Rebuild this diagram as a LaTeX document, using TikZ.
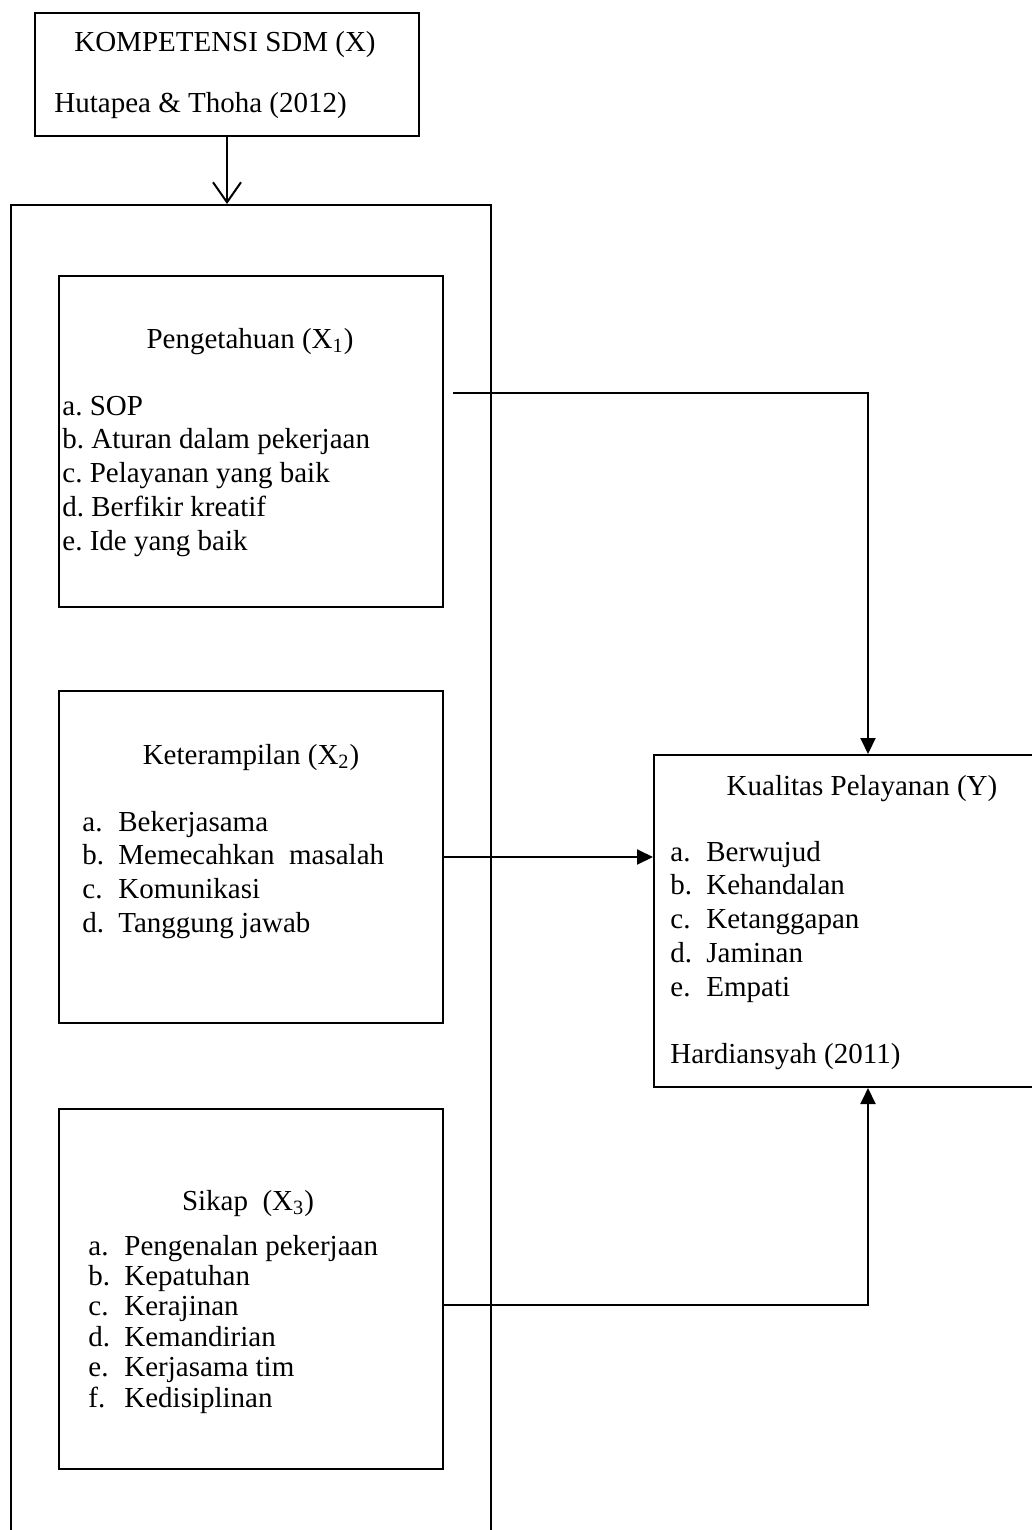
\documentclass[tikz,border=0pt]{standalone}
\usepackage{fontspec}
\setmainfont{Liberation Serif}
\usetikzlibrary{arrows.meta}
\usetikzlibrary{positioning}

\tikzset{
    kotak/.style={draw, line width=1pt, rectangle, anchor=north west, inner sep=0pt},
    judul/.style={anchor=base, inner sep=0pt},
    butir/.style={anchor=base west, inner sep=0pt},
    panah/.style={line width=1pt, -{Triangle[length=8pt,width=7.5pt]}},
    panahbuka/.style={line width=1pt, -{Straight Barb[length=10pt,width=14pt]}},
}
\newcommand{\itm}[2]{\makebox[18pt][l]{#1}#2}

\begin{document}
\begin{tikzpicture}[x=0.5pt, y=-0.5pt, font=\fontsize{14.5}{17}\selectfont\frenchspacing]
    \useasboundingbox (0,0) rectangle (1032,1530);
    \clip (0,0) rectangle (1032,1530);

    % kotak
    \node [kotak, minimum width=192pt, minimum height=61.5pt] (kompetensi) at (34,12) {};
    \node [kotak, minimum width=240pt, minimum height=680pt] (wadah) at (10,204) {};
    \node [kotak, minimum width=192pt, minimum height=165.5pt] (pengetahuan) at (58,275) {};
    \node [kotak, minimum width=192pt, minimum height=166pt] (keterampilan) at (58,690) {};
    \node [kotak, minimum width=192pt, minimum height=180pt] (sikap) at (58,1108) {};
    \node [kotak, minimum width=200pt, minimum height=166pt] (kualitas) at (653,754) {};

    % teks
    \node [judul] (tkompetensi) at (225,52) {KOMPETENSI SDM (X)};
    \node [butir] (sumberx) at (54,113) {Hutapea \& Thoha (2012)};

    \node [judul] (tpengetahuan) at (250,348) {Pengetahuan (X\textsubscript{1})};
    \foreach \t [count=\i] in {a. SOP, b. Aturan dalam pekerjaan, c. Pelayanan yang baik,
        d. Berfikir kreatif, e. Ide yang baik}
        \node [butir] (p\i) at (62,381.25+33.75*\i) {\t};

    \node [judul] (tketerampilan) at (251,764) {Keterampilan (X\textsubscript{2})};
    \foreach \h/\t [count=\i] in {a./Bekerjasama, b./Memecahkan\ \ masalah, c./Komunikasi,
        d./Tanggung jawab}
        \node [butir] (k\i) at (82,797.3+33.7*\i) {\itm{\h}{\t}};

    \node [judul] (tsikap) at (248,1210) {Sikap\ \ (X\textsubscript{3})};
    \foreach \h/\t [count=\i] in {a./Pengenalan pekerjaan, b./Kepatuhan, c./Kerajinan,
        d./Kemandirian, e./Kerjasama tim, f./Kedisiplinan}
        \node [butir] (s\i) at (88,1224.6+30.4*\i) {\itm{\h}{\t}};

    \node [judul] (tkualitas) at (862,795) {Kualitas Pelayanan (Y)};
    \foreach \h/\t [count=\i] in {a./Berwujud, b./Kehandalan, c./Ketanggapan,
        d./Jaminan, e./Empati}
        \node [butir] (y\i) at (670,827.25+33.75*\i) {\itm{\h}{\t}};
    \node [butir] (sumbery) at (670,1063) {Hardiansyah (2011)};

    % panah
    \coordinate (awal) at (453,393);
    \coordinate (atas) at (868,393);
    \coordinate (bawah) at (868,1305);
    \draw [panahbuka] (kompetensi.south) -- (kompetensi.south |- wadah.north);
    \draw [panah] (awal) -- (atas) -- (atas |- kualitas.north);
    \draw [panah] (keterampilan.east) -- (keterampilan.east -| kualitas.west);
    \draw [panah] (sikap.east |- bawah) -- (bawah) -- (bawah |- kualitas.south);
\end{tikzpicture}
\end{document}
